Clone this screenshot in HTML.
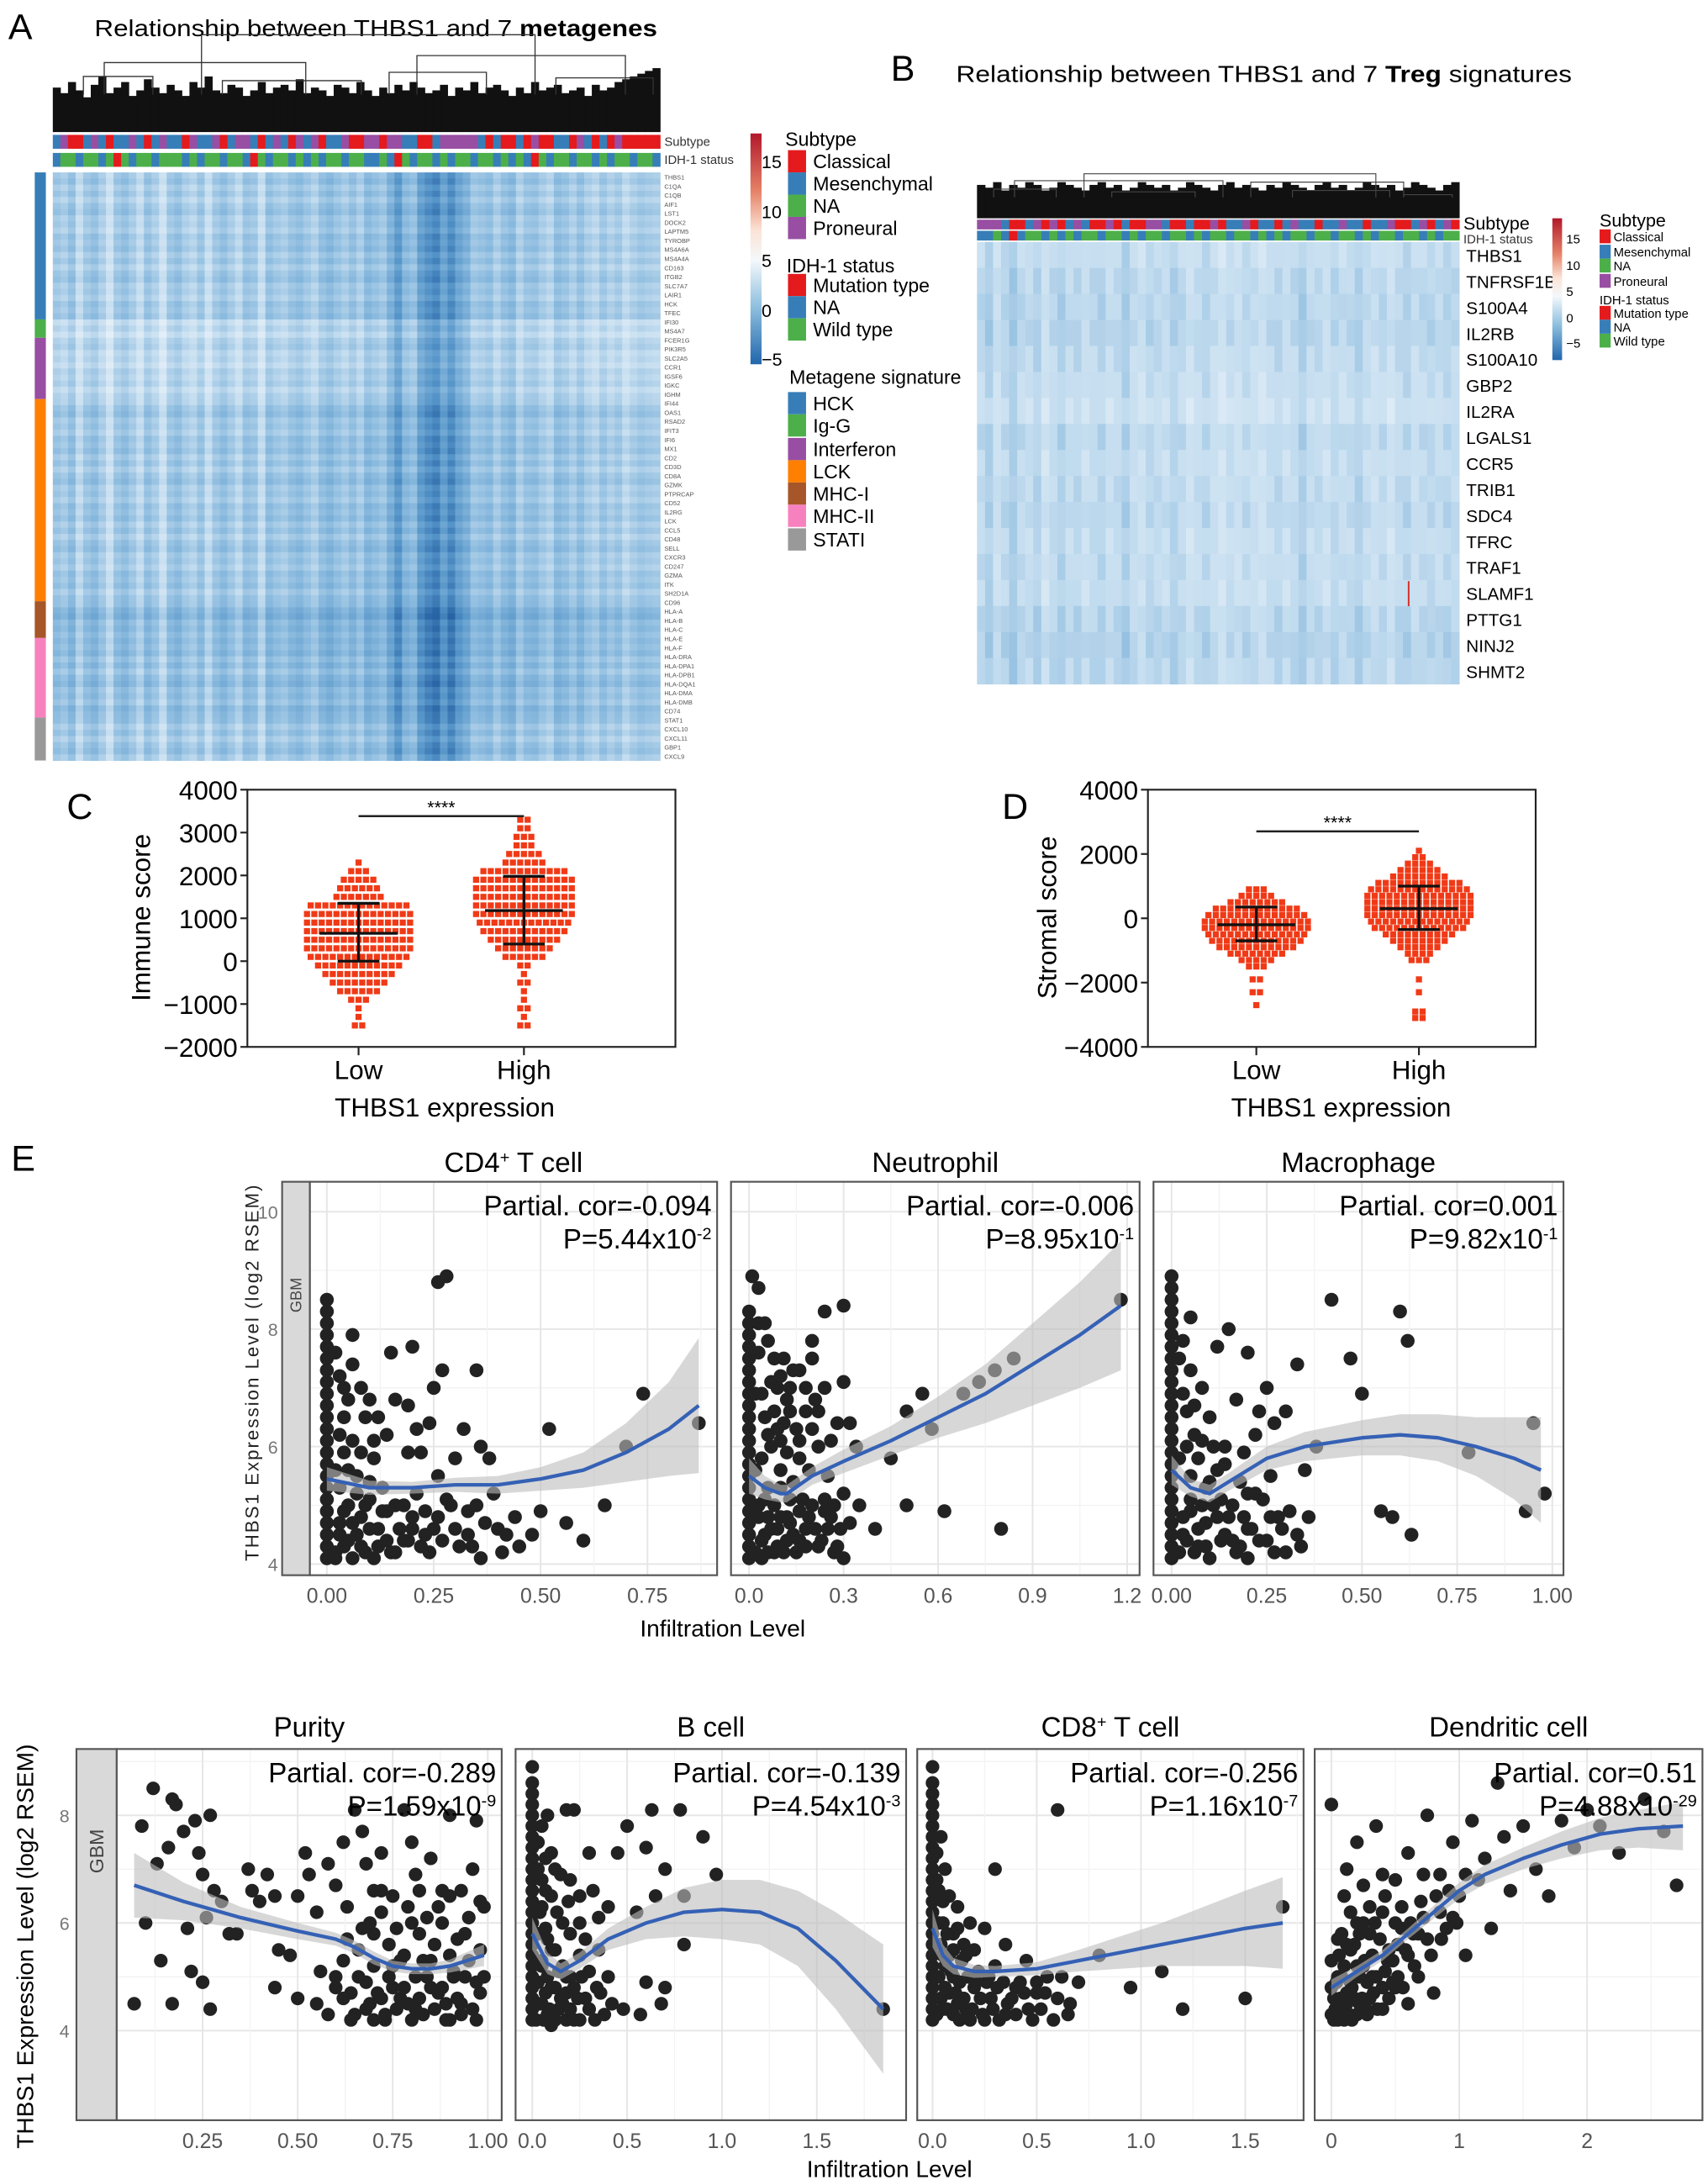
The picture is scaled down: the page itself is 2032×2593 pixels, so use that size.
<!DOCTYPE html>
<html><head><meta charset="utf-8">
<style>
html,body{margin:0;padding:0;background:#fff;}
svg{display:block;font-family:"Liberation Sans",sans-serif;}
</style></head>
<body>
<svg id="fig" xmlns="http://www.w3.org/2000/svg" width="2032" height="2593" viewBox="0 0 1229 1568" preserveAspectRatio="none">
<rect x="0" y="0" width="1229" height="1568" fill="#fff"/>

<text x="6" y="28" font-size="26">A</text>
<text x="68" y="26" font-size="17" textLength="405" lengthAdjust="spacingAndGlyphs">Relationship between THBS1 and 7 <tspan font-weight="bold">metagenes</tspan></text>
<g id="hmA"></g>
<text x="478" y="105" font-size="9" fill="#333">Subtype</text>
<text x="478" y="118" font-size="9" fill="#333">IDH-1 status</text>
<g id="legA">
<text x="565" y="105" font-size="14">Subtype</text>
<text x="566" y="196" font-size="14">IDH-1 status</text>
<text x="568" y="276" font-size="14">Metagene signature</text>
</g>

<text x="641" y="58" font-size="26">B</text>
<text x="688" y="59" font-size="17" textLength="443" lengthAdjust="spacingAndGlyphs">Relationship between THBS1 and 7 <tspan font-weight="bold">Treg</tspan> signatures</text>
<g id="hmB"></g>
<text x="1053" y="165" font-size="13">Subtype</text>
<text x="1053" y="175" font-size="9" fill="#333">IDH-1 status</text>
<g id="legB">
<text x="1151" y="163" font-size="13">Subtype</text>
<text x="1151" y="219" font-size="9">IDH-1 status</text>
</g>

<text x="48" y="589" font-size="26">C</text>
<text x="721" y="589" font-size="26">D</text>
<g id="chartC"></g>
<g id="chartD"></g>
<text transform="translate(108,660) rotate(-90)" font-size="19" text-anchor="middle">Immune score</text>
<text transform="translate(760,660) rotate(-90)" font-size="19" text-anchor="middle">Stromal score</text>
<text x="320" y="803" font-size="19" text-anchor="middle">THBS1 expression</text>
<text x="965" y="803" font-size="19" text-anchor="middle">THBS1 expression</text>

<text x="8" y="842" font-size="26">E</text>
<g id="chartE"></g>
<text transform="translate(186,987) rotate(-90)" font-size="13.5" letter-spacing="1.2" text-anchor="middle" fill="#222">THBS1 Expression Level (log2 RSEM)</text>
<text x="520" y="1177" font-size="17" text-anchor="middle">Infiltration Level</text>
<text transform="translate(24,1400) rotate(-90)" font-size="17" text-anchor="middle">THBS1 Expression Level (log2 RSEM)</text>
<text x="640" y="1566" font-size="17" text-anchor="middle">Infiltration Level</text>
</svg>

<script>
// ================= DATA =================
const colToneA = [0.45,0.4,0.5,0.3,0.45,0.5,0.4,0.25,0.45,0.5,0.42,0.3,0.48,0.4,0.25,0.45,0.5,0.4,0.35,0.46,0.28,0.44,0.5,0.42,0.32,0.48,0.45,0.28,0.5,0.44,0.4,0.48,0.52,0.45,0.38,0.5,0.55,0.48,0.42,0.5,0.4,0.55,0.5,0.45,0.6,0.75,0.55,0.5,0.72,0.8,0.85,0.7,0.82,0.68,0.6,0.45,0.48,0.52,0.4,0.5,0.55,0.38,0.48,0.5,0.42,0.36,0.52,0.48,0.4,0.5,0.4,0.35,0.46,0.38,0.44,0.32,0.4,0.45,0.42,0.4];
const groupsA = ["HCK","Ig-G","Interferon","LCK","MHC-I","MHC-II","STATI"];
const groupRowsA = [24,3,10,33,6,13,7];
const groupToneA = [0.0,-0.1,-0.08,0.02,0.12,0.08,0.02];
const rowToneA = [0,0.05,-0.04,0.03,-0.06,0.02,0.06,-0.03,0.01,-0.05,0.04];
const subtypeA = "MPCCMPMCMMPMCMPMMCPMMPCMPPMCMPMCPMPCMMPCCPPCPPMMCCMPPPPPMCMCCMCPCCMMCPMCMCPCCCCC";
const idhA     = "MNNMNNMNCNMNNMNNNMNMNNMNNMCNMNNMNMNMNNMNNMMNMCNMNNMNMNNMNNMNMNMCNMNNMNNMNMNNMNNM";
const leafA = [62,58,66,60,55,64,70,58,62,66,56,60,68,62,58,64,60,56,66,62,70,60,58,64,62,56,60,66,58,62,64,60,68,58,62,60,56,64,62,58,66,60,56,62,58,64,60,66,62,58,60,64,56,62,60,66,58,62,64,60,56,62,58,66,60,62,64,58,60,62,56,64,60,62,66,68,70,72,74,76];
const genesA = ["THBS1","C1QA","C1QB","AIF1","LST1","DOCK2","LAPTM5","TYROBP","MS4A6A","MS4A4A","CD163","ITGB2","SLC7A7","LAIR1","HCK","TFEC","IFI30","MS4A7","FCER1G","PIK3R5","SLC2A5","CCR1","IGSF6","IGKC","IGHM","IFI44","OAS1","RSAD2","IFIT3","IFI6","MX1","CD2","CD3D","CD8A","GZMK","PTPRCAP","CD52","IL2RG","LCK","CCL5","CD48","SELL","CXCR3","CD247","GZMA","ITK","SH2D1A","CD96","HLA-A","HLA-B","HLA-C","HLA-E","HLA-F","HLA-DRA","HLA-DPA1","HLA-DPB1","HLA-DQA1","HLA-DMA","HLA-DMB","CD74","STAT1","CXCL10","CXCL11","GBP1","CXCL9"];
const genesB = ["THBS1","TNFRSF1B","S100A4","IL2RB","S100A10","GBP2","IL2RA","LGALS1","CCR5","TRIB1","SDC4","TFRC","TRAF1","SLAMF1","PTTG1","NINJ2","SHMT2"];
const colToneB = [0.3,0.38,0.25,0.32,0.4,0.3,0.28,0.35,0.22,0.3,0.36,0.28,0.32,0.25,0.3,0.34,0.26,0.3,0.38,0.28,0.24,0.32,0.3,0.27,0.35,0.3,0.22,0.28,0.33,0.26,0.2,0.28,0.24,0.3,0.26,0.22,0.28,0.32,0.25,0.3,0.38,0.28,0.3,0.24,0.32,0.27,0.3,0.36,0.28,0.25,0.3,0.22,0.3,0.34,0.26,0.3,0.32,0.28,0.33,0.3];
const rowToneB = [0.0,0.04,0.05,0.06,0.02,0.0,-0.04,0.04,0.0,0.02,0.04,0.0,0.02,0.0,0.06,0.08,0.05];
const subtypeB = "PPPMCCMPCPCMPMCCPCMCCPPMCCMCCPCMMPCMMCMPMMCMMPMMCMMPCCMPCMPC";
const idhB     = "MMNMCMNNMNMNMNNMNNMNMNNMNNMNMNNMNNMNMNMNNMNNMNNMNMNNMNNMNMNN";
const leafB = [24,22,26,20,24,22,26,24,20,22,26,24,22,20,24,26,22,24,20,22,26,24,22,24,20,22,26,24,22,20,24,26,22,24,22,20,24,22,26,24,22,20,24,26,22,24,20,22,26,24,22,24,20,22,26,24,22,20,24,26];
const cLowVals  = [-1500,-1300,-1100,-900,-700,-500,-300,-100,100,300,500,700,900,1100,1300,1500,1700,1900,2100,2300];
const cLowCounts= [2,1,1,3,6,8,10,12,14,15,15,15,15,15,14,7,6,5,3,1];
const cHighVals = [-1500,-1300,-1100,-900,-700,-500,-300,-100,100,300,500,700,900,1100,1300,1500,1700,1900,2100,2300,2500,2700,2900,3100,3300];
const cHighCounts=[2,1,2,1,1,2,1,2,6,8,10,12,13,14,14,14,14,14,12,6,5,3,3,2,2];
const cStats = [[650,0,1350],[1180,400,1980]];
const cTicks = [4000,3000,2000,1000,0,-1000,-2000];
const dLowVals  = [-2700,-2300,-1900,-1500,-1300,-1100,-900,-700,-500,-300,-100,100,300,500,700,900];
const dLowCounts= [1,2,2,3,5,8,11,13,14,15,15,14,12,8,5,3];
const dHighVals = [-3100,-2900,-2300,-1900,-1300,-1100,-900,-700,-500,-300,-100,100,300,500,700,900,1100,1300,1500,1700,1900,2100];
const dHighCounts=[2,2,1,1,3,4,6,8,10,13,14,15,15,15,15,14,12,8,6,4,2,1];
const dStats = [[-200,-700,350],[300,-350,1000]];
const dTicks = [4000,2000,0,-2000,-4000];
const groupLabels = ["Low","High"];
const cd4Zero = [4.1,4.3,4.5,4.7,4.9,5.1,5.3,5.5,5.7,5.9,6.1,6.3,6.5,6.7,6.9,7.1,7.3,7.5,7.7,7.9,8.1,8.3,8.5];
const cd4Pts = [[0.02,4.2],[0.03,4.5],[0.04,4.9],[0.03,5.3],[0.05,4.4],[0.06,4.7],[0.08,4.3],[0.1,4.6],[0.12,4.3],[0.07,5.2],[0.09,5.0],[0.05,5.6],[0.04,6.5],[0.06,7.4],[0.03,7.2],[0.08,7.0],[0.1,6.8],[0.09,6.5],[0.12,6.5],[0.06,6.1],[0.08,5.9],[0.11,5.8],[0.13,5.3],[0.15,4.2],[0.17,4.6],[0.2,4.8],[0.22,4.3],[0.18,5.0],[0.14,6.2],[0.16,6.8],[0.19,6.7],[0.2,7.7],[0.15,7.6],[0.06,7.9],[0.26,8.8],[0.28,8.9],[0.25,7.0],[0.27,7.3],[0.24,6.4],[0.22,5.9],[0.26,5.5],[0.3,5.8],[0.32,6.3],[0.35,7.3],[0.36,6.0],[0.38,5.8],[0.3,4.6],[0.33,4.5],[0.36,4.1],[0.4,4.6],[0.42,4.5],[0.45,4.3],[0.48,4.5],[0.5,4.9],[0.52,6.3],[0.56,4.7],[0.6,4.4],[0.65,5.0],[0.7,6.0],[0.74,6.9],[0.87,6.4],[0.35,5.0],[0.28,5.1],[0.23,4.9],[0.11,4.1],[0.14,4.9],[0.19,4.4],[0.25,4.6]];
const cd4Dense = [[0.02,4.1],[0.04,4.3],[0.06,4.1],[0.03,4.7],[0.05,5.0],[0.07,4.5],[0.09,4.2],[0.08,4.8],[0.1,5.1],[0.12,4.6],[0.13,4.9],[0.14,4.4],[0.16,4.2],[0.16,5.0],[0.18,4.4],[0.2,4.6],[0.21,5.2],[0.23,4.5],[0.24,4.2],[0.26,4.8],[0.27,4.4],[0.29,5.0],[0.31,4.3],[0.33,4.9],[0.37,4.7],[0.39,5.2],[0.02,5.6],[0.04,5.9],[0.07,5.5],[0.1,5.4],[0.03,6.2],[0.05,6.8],[0.02,7.6],[0.04,7.0],[0.11,6.1],[0.19,5.9],[0.21,6.3],[0.34,4.3],[0.41,4.2],[0.44,4.8]];
const cd4FitX = [0,0.1,0.2,0.3,0.4,0.5,0.6,0.7,0.8,0.87];
const cd4FitY = [5.45,5.3,5.3,5.35,5.35,5.45,5.6,5.9,6.3,6.7];
const cd4Ci   = [0.2,0.12,0.1,0.12,0.15,0.2,0.3,0.5,0.8,1.15];
const neuZero = [4.1,4.3,4.5,4.7,4.9,5.1,5.3,5.5,5.7,5.9,6.1,6.3,6.5,6.7,6.9,7.1,7.3,7.5,7.7,7.9,8.1,8.3];
const neuPts = [[0.01,8.9],[0.03,8.7],[0.03,8.1],[0.05,8.1],[0.08,7.5],[0.11,7.5],[0.1,7.2],[0.13,7.0],[0.16,7.3],[0.2,7.5],[0.2,7.8],[0.24,8.3],[0.3,8.4],[0.3,7.1],[0.28,6.4],[0.32,6.4],[0.34,6.0],[0.05,6.5],[0.07,6.0],[0.1,5.6],[0.12,5.9],[0.15,6.3],[0.18,6.6],[0.22,6.0],[0.25,5.5],[0.27,5.0],[0.3,5.2],[0.32,4.7],[0.35,5.0],[0.4,4.6],[0.45,5.8],[0.5,5.0],[0.5,6.6],[0.55,6.9],[0.58,6.3],[0.62,4.9],[0.68,6.9],[0.73,7.1],[0.78,7.3],[0.8,4.6],[0.84,7.5],[1.18,8.5],[0.03,5.0],[0.05,4.5],[0.08,4.2],[0.1,4.8],[0.12,4.4],[0.15,4.2],[0.18,4.6],[0.2,5.0],[0.22,4.3],[0.25,4.6],[0.28,4.3],[0.3,4.1],[0.14,5.4],[0.17,5.1],[0.06,5.3],[0.09,4.6],[0.04,4.1],[0.11,4.2],[0.04,6.9],[0.07,7.1],[0.09,6.3],[0.13,6.6],[0.16,5.8],[0.19,5.6],[0.21,6.8],[0.06,4.8],[0.13,4.7],[0.24,4.9]];
const neuDense = [[0.02,4.2],[0.04,4.4],[0.06,4.2],[0.03,4.8],[0.05,5.1],[0.07,4.6],[0.09,4.3],[0.08,5.0],[0.1,5.3],[0.12,4.8],[0.13,5.1],[0.14,4.5],[0.16,4.4],[0.16,4.9],[0.18,4.3],[0.19,4.8],[0.21,4.6],[0.23,4.4],[0.24,5.1],[0.26,4.8],[0.27,4.2],[0.29,4.6],[0.02,5.6],[0.04,5.8],[0.06,6.2],[0.08,6.6],[0.1,6.1],[0.12,6.8],[0.14,7.3],[0.16,6.1],[0.18,7.0],[0.2,6.3],[0.22,6.6],[0.24,7.0],[0.26,6.1],[0.03,7.6],[0.06,7.8],[0.09,7.0],[0.11,6.4],[0.02,6.9]];
const neuFitX = [0,0.05,0.1,0.12,0.2,0.3,0.45,0.6,0.75,0.9,1.05,1.18];
const neuFitY = [5.5,5.3,5.2,5.2,5.5,5.75,6.1,6.5,6.9,7.4,7.9,8.4];
const neuCi   = [0.3,0.2,0.15,0.15,0.15,0.2,0.25,0.35,0.5,0.7,0.9,1.1];
const macZero = [4.1,4.3,4.5,4.7,4.9,5.1,5.3,5.5,5.7,5.9,6.1,6.3,6.5,6.7,6.9,7.1,7.3,7.5,7.7,7.9,8.1,8.3,8.5,8.7,8.9];
const macPts = [[0.02,7.5],[0.03,6.9],[0.05,7.3],[0.06,6.2],[0.07,5.8],[0.08,7.0],[0.1,6.5],[0.12,7.7],[0.15,8.0],[0.17,6.8],[0.2,7.6],[0.22,6.2],[0.25,7.0],[0.27,6.4],[0.3,6.6],[0.33,7.4],[0.35,5.6],[0.38,6.0],[0.42,8.5],[0.47,7.5],[0.5,6.9],[0.55,4.9],[0.58,4.8],[0.6,8.3],[0.62,7.8],[0.63,4.5],[0.78,5.9],[0.95,6.4],[0.93,4.9],[0.98,5.2],[0.03,4.5],[0.05,4.9],[0.07,4.3],[0.09,4.7],[0.11,5.0],[0.13,4.4],[0.15,4.8],[0.17,4.2],[0.2,4.6],[0.22,5.2],[0.25,4.4],[0.28,4.8],[0.3,4.2],[0.33,4.5],[0.12,5.6],[0.18,5.4],[0.26,5.5],[0.05,5.5],[0.09,5.3],[0.04,6.6],[0.08,6.1],[0.14,6.0],[0.19,5.9],[0.23,6.6],[0.1,4.1],[0.2,4.1]];
const macDense = [[0.02,4.2],[0.04,4.4],[0.06,4.2],[0.03,4.8],[0.05,5.1],[0.07,4.6],[0.09,4.3],[0.08,5.0],[0.1,5.4],[0.12,4.8],[0.13,5.1],[0.14,4.5],[0.16,4.4],[0.16,5.0],[0.18,4.3],[0.19,4.8],[0.21,4.6],[0.23,4.4],[0.24,5.1],[0.26,4.8],[0.27,4.2],[0.29,4.6],[0.02,5.8],[0.04,6.0],[0.06,6.7],[0.03,7.8],[0.05,8.2],[0.11,6.0],[0.14,5.7],[0.2,5.2],[0.31,4.9],[0.34,4.3],[0.36,4.8]];
const macFitX = [0,0.05,0.1,0.15,0.25,0.35,0.5,0.6,0.7,0.8,0.9,0.97];
const macFitY = [5.6,5.3,5.2,5.4,5.8,6.0,6.15,6.2,6.15,6.0,5.8,5.6];
const macCi   = [0.25,0.15,0.15,0.15,0.2,0.25,0.3,0.35,0.4,0.5,0.7,0.9];
const purPts = [[0.07,4.5],[0.09,7.8],[0.12,8.5],[0.1,6.0],[0.13,7.1],[0.14,5.3],[0.16,7.4],[0.17,8.3],[0.18,8.2],[0.2,7.7],[0.21,5.9],[0.22,5.1],[0.23,7.9],[0.24,7.3],[0.25,6.9],[0.26,6.1],[0.25,4.9],[0.27,8.0],[0.28,6.6],[0.17,4.5],[0.27,4.4],[0.3,6.4],[0.32,5.8],[0.34,5.8],[0.37,7.0],[0.38,6.6],[0.4,6.4],[0.42,6.9],[0.44,6.5],[0.45,5.5],[0.44,4.8],[0.5,6.5],[0.52,7.3],[0.53,6.9],[0.55,6.2],[0.56,5.1],[0.58,7.1],[0.6,6.7],[0.62,7.5],[0.63,6.3],[0.65,8.1],[0.67,7.7],[0.68,7.1],[0.7,6.6],[0.72,7.3],[0.75,6.5],[0.78,8.1],[0.8,7.5],[0.82,6.6],[0.85,7.2],[0.88,6.0],[0.9,8.0],[0.93,6.6],[0.97,7.9],[0.98,6.4],[0.6,5.0],[0.62,4.6],[0.65,4.3],[0.68,4.9],[0.7,4.2],[0.72,4.6],[0.74,5.0],[0.76,4.4],[0.78,4.8],[0.8,4.2],[0.82,4.6],[0.84,5.0],[0.86,4.4],[0.88,4.8],[0.9,4.2],[0.92,4.6],[0.94,5.0],[0.96,4.4],[0.98,4.7],[0.66,5.5],[0.7,5.8],[0.74,5.6],[0.78,5.4],[0.82,5.8],[0.86,5.6],[0.9,5.4],[0.94,5.8],[0.98,5.5],[0.72,6.2],[0.8,6.0],[0.87,6.3],[0.95,6.1],[0.55,4.5],[0.5,4.6],[0.48,5.4],[0.64,4.7],[0.69,4.5],[0.73,4.3],[0.77,4.6],[0.81,4.4],[0.85,4.8],[0.89,4.5],[0.93,4.3],[0.97,4.9],[0.75,5.2],[0.83,5.3],[0.91,5.1],[0.67,5.9],[0.79,6.3],[0.88,6.6]];
const purDense = [[0.58,4.3],[0.6,4.8],[0.62,5.3],[0.64,4.2],[0.66,5.0],[0.68,4.4],[0.7,5.2],[0.71,4.7],[0.73,4.2],[0.75,4.8],[0.77,5.3],[0.79,4.5],[0.81,5.0],[0.83,4.3],[0.85,5.3],[0.87,4.7],[0.89,4.2],[0.91,5.0],[0.93,4.5],[0.95,5.3],[0.97,4.2],[0.99,5.0],[0.63,5.7],[0.69,6.0],[0.76,5.9],[0.84,6.1],[0.92,5.7],[0.99,6.3],[0.72,6.6],[0.81,6.9],[0.9,6.5],[0.96,7.0]];
const purFitX = [0.07,0.2,0.35,0.5,0.6,0.65,0.7,0.75,0.8,0.85,0.9,0.99];
const purFitY = [6.7,6.4,6.1,5.85,5.7,5.55,5.35,5.2,5.15,5.15,5.2,5.4];
const purCi   = [0.6,0.35,0.2,0.15,0.12,0.12,0.12,0.1,0.1,0.1,0.12,0.2];
const bZero = [4.2,4.4,4.6,4.8,5.0,5.2,5.4,5.6,5.8,6.0,6.2,6.4,6.6,6.8,7.0,7.2,7.4,7.6,7.8,8.0,8.2,8.4,8.6,8.9];
const bPts = [[0.03,7.5],[0.05,6.8],[0.07,7.2],[0.1,6.5],[0.12,7.0],[0.15,6.9],[0.18,8.1],[0.22,8.1],[0.2,6.8],[0.25,6.0],[0.3,7.3],[0.32,6.6],[0.35,6.1],[0.4,6.3],[0.45,7.3],[0.5,7.8],[0.6,7.4],[0.63,8.1],[0.7,7.0],[0.78,8.1],[0.65,6.5],[0.8,6.5],[0.8,5.6],[0.9,7.6],[0.97,6.9],[0.55,6.2],[0.6,4.9],[0.7,4.8],[0.68,4.5],[0.57,4.3],[0.48,4.4],[1.85,4.4],[0.05,4.5],[0.08,4.3],[0.1,4.8],[0.12,4.2],[0.15,4.6],[0.18,5.0],[0.2,4.4],[0.22,4.8],[0.25,4.2],[0.28,4.6],[0.3,5.1],[0.33,4.2],[0.36,4.7],[0.4,5.0],[0.42,4.5],[0.05,5.3],[0.08,5.7],[0.12,5.5],[0.16,5.2],[0.2,5.8],[0.25,5.4],[0.35,5.5],[0.04,6.2],[0.07,5.9],[0.1,4.1],[0.14,4.4],[0.18,4.2]];
const bDense = [[0.02,4.2],[0.04,4.5],[0.06,4.2],[0.03,4.9],[0.05,5.2],[0.07,4.7],[0.09,4.4],[0.08,5.0],[0.1,5.5],[0.12,4.8],[0.14,5.1],[0.16,4.5],[0.18,4.7],[0.2,5.0],[0.22,4.2],[0.24,4.6],[0.26,5.0],[0.3,4.4],[0.34,4.8],[0.38,4.3],[0.03,5.8],[0.05,6.3],[0.07,6.6],[0.1,7.3],[0.13,6.2],[0.16,6.0],[0.19,6.4],[0.03,7.0],[0.05,7.8],[0.08,8.0],[0.25,6.5],[0.28,5.7]];
const bFitX = [0,0.08,0.15,0.25,0.4,0.6,0.8,1.0,1.2,1.4,1.6,1.85];
const bFitY = [5.8,5.25,5.1,5.3,5.7,6.0,6.2,6.25,6.2,5.9,5.3,4.4];
const bCi   = [0.3,0.2,0.15,0.15,0.2,0.3,0.45,0.55,0.6,0.7,0.9,1.2];
const cd8Zero = [4.2,4.4,4.6,4.8,5.0,5.2,5.4,5.6,5.8,6.0,6.2,6.4,6.6,6.8,7.0,7.2,7.4,7.6,7.8,8.0,8.2,8.4,8.6,8.9];
const cd8Pts = [[0.02,7.3],[0.03,6.6],[0.05,6.0],[0.06,7.0],[0.08,6.5],[0.1,5.8],[0.12,6.3],[0.15,5.6],[0.18,6.0],[0.2,5.5],[0.25,5.9],[0.3,5.2],[0.35,5.6],[0.4,4.8],[0.45,5.3],[0.5,4.7],[0.55,5.0],[0.6,4.6],[0.7,4.9],[0.8,5.4],[0.95,4.8],[1.1,5.1],[1.2,4.4],[1.5,4.6],[1.68,6.3],[0.6,8.1],[0.3,7.0],[0.05,4.4],[0.08,4.7],[0.1,4.3],[0.13,4.9],[0.16,4.4],[0.2,4.8],[0.24,4.3],[0.28,4.6],[0.32,4.2],[0.36,4.5],[0.4,4.3],[0.44,4.7],[0.48,4.2],[0.52,4.4],[0.06,5.2],[0.1,5.0],[0.14,5.3],[0.22,5.1],[0.26,4.9],[0.04,5.6],[0.08,5.4],[0.12,4.5],[0.18,4.2],[0.34,4.9],[0.65,4.3]];
const cd8Dense = [[0.02,4.3],[0.04,4.6],[0.06,4.8],[0.03,5.0],[0.05,5.4],[0.07,4.4],[0.09,5.1],[0.11,4.7],[0.13,4.2],[0.15,4.6],[0.17,5.0],[0.19,4.4],[0.21,4.9],[0.23,4.6],[0.25,4.2],[0.27,5.0],[0.29,4.4],[0.31,4.8],[0.35,4.3],[0.38,4.6],[0.42,4.9],[0.46,4.4],[0.5,4.9],[0.54,4.7],[0.58,4.2],[0.62,5.0],[0.66,4.5],[0.03,6.0],[0.05,6.4],[0.07,5.8],[0.1,5.5],[0.02,6.8],[0.04,7.6],[0.12,5.9],[0.16,5.4]];
const cd8FitX = [0,0.05,0.1,0.2,0.3,0.5,0.7,0.9,1.1,1.3,1.5,1.68];
const cd8FitY = [5.9,5.4,5.2,5.1,5.1,5.15,5.3,5.45,5.6,5.75,5.9,6.0];
const cd8Ci   = [0.35,0.2,0.15,0.12,0.1,0.12,0.2,0.3,0.4,0.55,0.7,0.85];
const dcZero = [];
const dcPts = [[0,4.3],[0,4.8],[0,5.3],[0,8.2],[0.05,4.2],[0.05,5.0],[0.08,5.8],[0.1,4.5],[0.1,6.5],[0.12,7.0],[0.15,4.9],[0.15,5.5],[0.2,4.3],[0.2,6.0],[0.2,7.5],[0.25,5.2],[0.25,6.7],[0.3,4.6],[0.3,5.8],[0.35,7.8],[0.35,5.0],[0.4,4.4],[0.4,6.2],[0.45,5.5],[0.5,4.8],[0.5,6.8],[0.55,5.9],[0.6,7.3],[0.6,4.5],[0.65,5.2],[0.7,6.4],[0.75,8.0],[0.75,5.7],[0.8,4.7],[0.85,6.9],[0.9,5.9],[0.95,7.5],[1.0,6.5],[1.05,5.4],[1.1,7.9],[1.15,6.8],[1.2,7.2],[1.25,5.9],[1.3,8.6],[1.35,7.6],[1.4,6.6],[1.5,7.8],[1.6,7.0],[1.7,6.5],[1.8,7.9],[1.9,7.4],[2.0,8.1],[2.1,7.8],[2.25,7.3],[2.45,8.3],[2.7,6.7],[2.6,7.7],[0.02,4.6],[0.08,4.4],[0.12,4.7],[0.18,4.6],[0.22,5.0],[0.28,4.9],[0.32,5.4],[0.38,5.7],[0.42,5.1],[0.48,5.3],[0.55,6.3],[0.62,6.0],[0.05,5.7],[0.1,5.2],[0.18,5.6],[0.25,6.0],[0.3,6.3],[0.03,4.4],[0.07,4.6],[0.14,4.3],[0.22,4.5],[0.27,4.4],[0.33,4.7],[0.45,4.6],[0.52,5.0],[0.58,5.5],[0.68,5.8],[0.72,6.9],[0.85,6.2],[0.95,6.1],[1.05,6.9],[0.4,6.9],[0.15,6.2]];
const dcDense = [[0.02,4.2],[0.06,4.4],[0.1,4.2],[0.04,4.9],[0.08,5.0],[0.12,4.5],[0.16,4.2],[0.16,4.8],[0.2,5.2],[0.24,4.6],[0.28,4.3],[0.32,5.0],[0.36,4.4],[0.4,4.8],[0.44,5.3],[0.48,4.9],[0.52,5.6],[0.56,4.8],[0.6,5.4],[0.64,5.8],[0.68,5.0],[0.72,6.1],[0.78,5.4],[0.82,6.5],[0.86,5.7],[0.92,6.6],[0.98,6.0],[0.12,5.6],[0.22,5.8],[0.34,6.0],[0.42,6.5],[0.5,6.0],[0.26,5.3],[0.06,5.4]];
const dcFitX = [0,0.2,0.4,0.6,0.8,1.0,1.2,1.5,1.8,2.1,2.4,2.75];
const dcFitY = [4.8,5.1,5.4,5.8,6.2,6.6,6.9,7.2,7.45,7.65,7.75,7.8];
const dcCi   = [0.15,0.1,0.1,0.1,0.12,0.15,0.18,0.2,0.25,0.3,0.35,0.45];
const topYTicks = [4,6,8,10];
const botYTicks = [4,6,8];
const cd4XTicks = [0,0.25,0.5,0.75];
const cd4XLabels = ["0.00","0.25","0.50","0.75"];
const neuXTicks = [0,0.3,0.6,0.9,1.2];
const neuXLabels = ["0.0","0.3","0.6","0.9","1.2"];
const macXTicks = [0,0.25,0.5,0.75,1.0];
const macXLabels = ["0.00","0.25","0.50","0.75","1.00"];
const purXTicks = [0.25,0.5,0.75,1.0];
const purXLabels = ["0.25","0.50","0.75","1.00"];
const bXTicks = [0,0.5,1.0,1.5];
const bXLabels = ["0.0","0.5","1.0","1.5"];
const cd8XTicks = [0,0.5,1.0,1.5];
const cd8XLabels = ["0.0","0.5","1.0","1.5"];
const dcXTicks = [0,1,2];
const dcXLabels = ["0","1","2"];
const corLabels = ["-0.094","-0.006","0.001","-0.289","-0.139","-0.256","0.51"];
const pMant = ["5.44","8.95","9.82","1.59","4.54","1.16","4.88"];
const pExp = ["-2","-1","-1","-9","-3","-7","-29"];

// ================= HELPERS =================
const NS = "http://www.w3.org/2000/svg";
function mk(parent, tag, attrs){
  const e = document.createElementNS(NS, tag);
  for (const k in attrs) e.setAttribute(k, attrs[k]);
  parent.appendChild(e);
  return e;
}
function lerp(a,b,t){return a+(b-a)*t;}
function blue(t){
  t = Math.max(0, Math.min(1, t));
  const stops = [[0,[240,246,251]],[0.3,[198,222,240]],[0.55,[138,186,222]],[0.8,[85,148,200]],[1,[40,100,165]]];
  for (let i=0;i<stops.length-1;i++){
    if (t<=stops[i+1][0]){
      const u=(t-stops[i][0])/(stops[i+1][0]-stops[i][0]);
      const c=stops[i][1].map((v,k)=>Math.round(lerp(v,stops[i+1][1][k],u)));
      return "rgb("+c.join(",")+")";
    }
  }
  return "rgb(40,100,165)";
}
const subColors = {C:"#e41a1c",M:"#377eb8",N:"#4daf4a",P:"#984ea3"};
const idhColors = {C:"#e41a1c",M:"#377eb8",N:"#4daf4a"};
const sigColors = ["#377eb8","#4daf4a","#984ea3","#ff7f00","#a65628","#f781bf","#999999"];

// ================= HEATMAP A =================
(function(){
  const g = document.getElementById("hmA");
  const x0=38, x1=475, W=x1-x0;
  const lw = W/leafA.length;
  leafA.forEach((h,i)=>{
    const r = mk(g,"rect",{x:x0+i*lw, y:95-(h-30), width:lw+0.3, height:h-30, fill:"#111"});
    
    
  });
  const branches = [[145,385,25],[75,220,45],[300,450,40],[60,110,55],[160,260,58],[280,350,52],[400,470,56]];
  branches.forEach(b=>{
    const p = mk(g,"path",{d:`M${b[0]},68 V${b[2]} H${b[1]} V68`, fill:"none", stroke:"#333", "stroke-width":0.8});
    
    
  });
  const sw = W/subtypeA.length;
  for (let i=0;i<subtypeA.length;i++){
    const r = mk(g,"rect",{x:x0+i*sw,y:97,width:sw+0.3,height:10,fill:subColors[subtypeA[i]]});
    
    
  }
  const iw = W/idhA.length;
  for (let i=0;i<idhA.length;i++){
    const r = mk(g,"rect",{x:x0+i*iw,y:110,width:iw+0.3,height:10,fill:idhColors[idhA[i]]});
    
    
  }
  const y0=124, y1=547;
  const totalRows = groupRowsA.reduce((a,b)=>a+b,0);
  const rh = (y1-y0)/totalRows;
  const cw = W/colToneA.length;
  let row=0;
  groupRowsA.forEach((n,gi)=>{
    const gy = y0+row*rh;
    const band = mk(g,"rect",{x:25,y:gy,width:8,height:n*rh,fill:sigColors[gi]});
    
    
    for (let r=0;r<n;r++){
      const rt = rowToneA[(row+r)%rowToneA.length];
      colToneA.forEach((c,j)=>{
        const rc = mk(g,"rect",{x:x0+j*cw,y:y0+(row+r)*rh,width:cw+0.3,height:rh+0.3,fill:blue(c+groupToneA[gi]+rt)});
        
        
      });
    }
    row+=n;
  });
  const gs = (y1-y0)/genesA.length;
  genesA.forEach((nm,i)=>{
    const t = mk(g,"text",{x:478,y:y0+gs*(i+0.8),"font-size":4.5,fill:"#555"});
    t.textContent = nm;
    
    
  });
  const defs = mk(document.getElementById("fig"),"defs",{});
  const lg = mk(defs,"linearGradient",{id:"cbar",x1:0,y1:0,x2:0,y2:1});
  [["0","#b2182b"],["0.25","#e58267"],["0.42","#fbe3d6"],["0.55","#f4f8fb"],["0.75","#8fc0df"],["1","#2166ac"]].forEach(s=>mk(lg,"stop",{offset:s[0],"stop-color":s[1]}));
  const cb = mk(g,"rect",{x:540,y:96,width:8,height:166,fill:"url(#cbar)"});
  
  
  [["15",116],["10",152],["5",187],["0",223],["−5",258]].forEach(t=>{
    const tx = mk(g,"text",{x:548,y:t[1]+5,"font-size":13});
    tx.textContent=t[0];
    
    
  });
  const lgA = document.getElementById("legA");
  const items = [["Classical","#e41a1c",116],["Mesenchymal","#377eb8",132],["NA","#4daf4a",148],["Proneural","#984ea3",164],
    ["Mutation type","#e41a1c",205],["NA","#377eb8",221],["Wild type","#4daf4a",237],
    ["HCK",sigColors[0],290],["Ig-G",sigColors[1],306],["Interferon",sigColors[2],323],["LCK",sigColors[3],339],["MHC-I",sigColors[4],355],["MHC-II",sigColors[5],371],["STATI",sigColors[6],388]];
  items.forEach(it=>{
    const r = mk(lgA,"rect",{x:567,y:it[2]-8,width:13,height:16,fill:it[1]});
    
    
    const t = mk(lgA,"text",{x:585,y:it[2]+5,"font-size":14});
    t.textContent = it[0];
    
    
  });
})();

// ================= HEATMAP B =================
(function(){
  const g = document.getElementById("hmB");
  const x0=703, x1=1050, W=x1-x0;
  const lw = W/leafB.length;
  leafB.forEach((h,i)=>{
    const r = mk(g,"rect",{x:x0+i*lw,y:157-h,width:lw+0.3,height:h,fill:"#111"});
    
    
  });
  const branches = [[780,990,125],[730,880,130],[900,1010,131],[715,760,136],[800,860,138],[930,1000,137],[1010,1045,140]];
  branches.forEach(b=>{
    const p = mk(g,"path",{d:`M${b[0]},142 V${b[2]} H${b[1]} V142`,fill:"none",stroke:"#444","stroke-width":0.7});
    
    
  });
  const sw = W/subtypeB.length;
  for (let i=0;i<subtypeB.length;i++){
    const r = mk(g,"rect",{x:x0+i*sw,y:158,width:sw+0.3,height:7,fill:subColors[subtypeB[i]]});
    
    
  }
  const iw = W/idhB.length;
  for (let i=0;i<idhB.length;i++){
    const r = mk(g,"rect",{x:x0+i*iw,y:166,width:iw+0.3,height:7,fill:idhColors[idhB[i]]});
    
    
  }
  const y0=174, y1=492, rh=(y1-y0)/genesB.length, cw=W/colToneB.length;
  genesB.forEach((nm,i)=>{
    colToneB.forEach((c,j)=>{
      const rc = mk(g,"rect",{x:x0+j*cw,y:y0+i*rh,width:cw+0.3,height:rh+0.3,fill:blue(c+rowToneB[i]+((i*7+j*3)%5-2)*0.02)});
      
      
    });
    const t = mk(g,"text",{x:1055,y:y0+rh*i+rh/2+5,"font-size":12.5});
    t.textContent = nm;
    
    
  });
  const mark = mk(g,"rect",{x:1013,y:418,width:1.2,height:18,fill:"#d73027"});
  
  
  const cb = mk(g,"rect",{x:1117,y:157,width:7,height:102,fill:"url(#cbar)"});
  
  
  [["15",171],["10",190],["5",209],["0",228],["−5",246]].forEach(t=>{
    const tx = mk(g,"text",{x:1127,y:t[1]+4,"font-size":9});
    tx.textContent=t[0];
    
    
  });
  const lgB = document.getElementById("legB");
  const items = [["Classical","#e41a1c",170],["Mesenchymal","#377eb8",181],["NA","#4daf4a",191],["Proneural","#984ea3",202],["Mutation type","#e41a1c",225],["NA","#377eb8",235],["Wild type","#4daf4a",245]];
  items.forEach(it=>{
    const r = mk(lgB,"rect",{x:1151,y:it[2]-5,width:8,height:10,fill:it[1]});
    
    
    const t = mk(lgB,"text",{x:1161,y:it[2]+3.5,"font-size":9});
    t.textContent = it[0];
    
    
  });
})();

// ================= BEESWARM C / D =================
function beeswarm(gid, box, vmin, vmax, ticks, groups, stats, sigY){
  const g = document.getElementById(gid);
  const ys = v => box.y1 - (v - vmin)/(vmax - vmin)*(box.y1 - box.y0);
  const frame = mk(g,"rect",{x:box.x0,y:box.y0,width:box.x1-box.x0,height:box.y1-box.y0,fill:"none",stroke:"#222","stroke-width":1.3});
  
  
  ticks.forEach(t=>{
    const l = mk(g,"line",{x1:box.x0-5,x2:box.x0,y1:ys(t),y2:ys(t),stroke:"#222","stroke-width":1.3});
    
    
    const tx = mk(g,"text",{x:box.x0-7,y:ys(t)+7,"font-size":19,"text-anchor":"end"});
    tx.textContent = t<0 ? "−"+Math.abs(t) : String(t);
    
    
  });
  groups.forEach((gr,gi)=>{
    const cx = gr.cx;
    gr.vals.forEach((v,k)=>{
      const n = gr.counts[k];
      for (let i=0;i<n;i++){
        const off = (i-(n-1)/2)*5.3;
        const sq = mk(g,"rect",{x:cx+off-2.2,y:ys(v)-2.2,width:4.4,height:4.4,fill:"#f03a17"});
        
        
      }
    });
    const s = stats[gi];
    const em = mk(g,"path",{d:`M${cx-28},${ys(s[0])} H${cx+28} M${cx},${ys(s[1])} V${ys(s[2])} M${cx-15},${ys(s[1])} H${cx+15} M${cx-15},${ys(s[2])} H${cx+15}`,stroke:"#111","stroke-width":2,fill:"none"});
    
    
    const tk = mk(g,"line",{x1:cx,x2:cx,y1:box.y1,y2:box.y1+6,stroke:"#222","stroke-width":1.3});
    
    
    const lab = mk(g,"text",{x:cx,y:box.y1+23,"font-size":19,"text-anchor":"middle"});
    lab.textContent = groupLabels[gi];
    
    
  });
  const sb = mk(g,"line",{x1:groups[0].cx,x2:groups[1].cx,y1:sigY,y2:sigY,stroke:"#222","stroke-width":1.5});
  
  
  const st = mk(g,"text",{x:(groups[0].cx+groups[1].cx)/2,y:sigY-2,"font-size":13,"text-anchor":"middle"});
  st.textContent = "****";
  
  
}
beeswarm("chartC",{x0:178,x1:486,y0:568,y1:753},-2000,4000,cTicks,
  [{cx:258,vals:cLowVals,counts:cLowCounts},{cx:377,vals:cHighVals,counts:cHighCounts}],cStats,587);
beeswarm("chartD",{x0:826,x1:1105,y0:568,y1:753},-4000,4000,dTicks,
  [{cx:904,vals:dLowVals,counts:dLowCounts},{cx:1021,vals:dHighVals,counts:dHighCounts}],dStats,598);

// ================= SCATTER PANELS E =================
function panel(cfg){
  const g = document.getElementById("chartE");
  const xs = v => cfg.px0 + v*cfg.ppu;
  const ys = v => cfg.ybase - (v-4)*cfg.ypu;
  const bg = mk(g,"rect",{x:cfg.x0,y:cfg.y0,width:cfg.x1-cfg.x0,height:cfg.y1-cfg.y0,fill:"#fff"});
  
  
  cfg.yticks.forEach(t=>{
    [t, t+1].forEach((v,k)=>{
      const y = ys(v);
      if (y>cfg.y0 && y<cfg.y1){
        const l = mk(g,"line",{x1:cfg.x0,x2:cfg.x1,y1:y,y2:y,stroke:k?"#f3f3f3":"#e6e6e6","stroke-width":k?0.8:1.2});
        
        
      }
    });
  });
  const step = cfg.xticks.length>1 ? cfg.xticks[1]-cfg.xticks[0] : 1;
  cfg.xticks.forEach(t=>{
    [t, t+step/2].forEach((v,k)=>{
      const x = xs(v);
      if (x>cfg.x0 && x<cfg.x1){
        const l = mk(g,"line",{x1:x,x2:x,y1:cfg.y0,y2:cfg.y1,stroke:k?"#f3f3f3":"#e6e6e6","stroke-width":k?0.8:1.2});
        
        
      }
    });
  });
  if (cfg.xticks[0] > 0){
    const x = xs(cfg.xticks[0]-step/2);
    const l = mk(g,"line",{x1:x,x2:x,y1:cfg.y0,y2:cfg.y1,stroke:"#f3f3f3","stroke-width":0.8});
    
    
  }
  cfg.zero.forEach(v=>{
    const c = mk(g,"circle",{cx:xs(0),cy:ys(v),r:cfg.r,fill:"#222"});
    
    
  });
  cfg.pts.concat(cfg.dense).forEach(p=>{
    const c = mk(g,"circle",{cx:xs(p[0]),cy:ys(p[1]),r:cfg.r,fill:"#222"});
    
    
  });
  let up="", lo="";
  cfg.fx.forEach((x,i)=>{ up += (i?" L":"M")+xs(x)+","+ys(cfg.fy[i]+cfg.ci[i]); });
  for (let i=cfg.fx.length-1;i>=0;i--){ lo += " L"+xs(cfg.fx[i])+","+ys(cfg.fy[i]-cfg.ci[i]); }
  const band = mk(g,"path",{d:up+lo+" Z",fill:"#bdbdbd","fill-opacity":0.6});
  
  
  let d="";
  cfg.fx.forEach((x,i)=>{ d += (i?" L":"M")+xs(x)+","+ys(cfg.fy[i]); });
  const line = mk(g,"path",{d:d,fill:"none",stroke:"#3561b5","stroke-width":2.6,"stroke-linejoin":"round"});
  
  
  const fr = mk(g,"rect",{x:cfg.x0,y:cfg.y0,width:cfg.x1-cfg.x0,height:cfg.y1-cfg.y0,fill:"none",stroke:"#555","stroke-width":1.3});
  
  
  cfg.xticks.forEach((t,i)=>{
    const tx = mk(g,"text",{x:xs(t),y:cfg.y1+cfg.xlabOff,"font-size":cfg.tickFs,"text-anchor":"middle",fill:"#555"});
    tx.textContent = cfg.xlabels[i];
    
    
  });
  if (cfg.showY){
    cfg.yticks.forEach(t=>{
      const tx = mk(g,"text",{x:cfg.ylabX,y:ys(t)+5,"font-size":cfg.tickFs-2,"text-anchor":"end",fill:"#777"});
      tx.textContent = String(t);
      
      
    });
  }
  const tt = mk(g,"text",{x:(cfg.x0+cfg.x1)/2,y:cfg.titleY,"font-size":20,"text-anchor":"middle"});
  
  
  if (cfg.sup){
    tt.appendChild(document.createTextNode(cfg.title[0]));
    const sp = mk(tt,"tspan",{"baseline-shift":"super","font-size":12});
    sp.textContent = "+";
    const rest = mk(tt,"tspan",{});
    rest.textContent = cfg.title[1];
  } else tt.textContent = cfg.title;
  const a1 = mk(g,"text",{x:cfg.x1-4,y:cfg.y0+24,"font-size":20,"text-anchor":"end"});
  a1.textContent = "Partial. cor=" + corLabels[cfg.idx];
  
  
  const a2 = mk(g,"text",{x:cfg.x1-4,y:cfg.y0+48,"font-size":20,"text-anchor":"end"});
  
  
  a2.appendChild(document.createTextNode("P=" + pMant[cfg.idx] + "x10"));
  const ex = mk(a2,"tspan",{"baseline-shift":"super","font-size":12});
  ex.textContent = pExp[cfg.idx];
}
function strip(x0,x1,y0,y1,fs){
  const g = document.getElementById("chartE");
  const r = mk(g,"rect",{x:x0,y:y0,width:x1-x0,height:y1-y0,fill:"#d9d9d9",stroke:"#555","stroke-width":1.3});
  
  
  const t = mk(g,"text",{transform:`translate(${(x0+x1)/2+fs*0.35},${(y0+y1)/2-60}) rotate(-90)`,"font-size":fs,"text-anchor":"middle",fill:"#444"});
  t.textContent = "GBM";
  
  
}
const topRow = {y0:850,y1:1133,ybase:1125,ypu:42.25,yticks:topYTicks,r:5,tickFs:15,xlabOff:20,titleY:843};
const botRow = {y0:1258,y1:1525,ybase:1460.6,ypu:38.73,yticks:botYTicks,r:4.9,tickFs:15,xlabOff:20,titleY:1249};
strip(203,223,850,1133,11);
strip(55,84,1258,1525,14);
panel(Object.assign({},topRow,{idx:0,x0:223,x1:516,px0:235.2,ppu:307.6,zero:cd4Zero,pts:cd4Pts,dense:cd4Dense,fx:cd4FitX,fy:cd4FitY,ci:cd4Ci,xticks:cd4XTicks,xlabels:cd4XLabels,title:["CD4"," T cell"],sup:true,showY:true,ylabX:200}));
panel(Object.assign({},topRow,{idx:1,x0:526,x1:820,px0:539,ppu:226.7,zero:neuZero,pts:neuPts,dense:neuDense,fx:neuFitX,fy:neuFitY,ci:neuCi,xticks:neuXTicks,xlabels:neuXLabels,title:"Neutrophil"}));
panel(Object.assign({},topRow,{idx:2,x0:830,x1:1125,px0:843,ppu:274,zero:macZero,pts:macPts,dense:macDense,fx:macFitX,fy:macFitY,ci:macCi,xticks:macXTicks,xlabels:macXLabels,title:"Macrophage"}));
panel(Object.assign({},botRow,{idx:3,x0:84,x1:361,px0:77.4,ppu:273.6,zero:[],pts:purPts,dense:purDense,fx:purFitX,fy:purFitY,ci:purCi,xticks:purXTicks,xlabels:purXLabels,title:"Purity",showY:true,ylabX:50}));
panel(Object.assign({},botRow,{idx:4,x0:371,x1:652,px0:383,ppu:136.5,zero:bZero,pts:bPts,dense:bDense,fx:bFitX,fy:bFitY,ci:bCi,xticks:bXTicks,xlabels:bXLabels,title:"B cell"}));
panel(Object.assign({},botRow,{idx:5,x0:660,x1:938,px0:671,ppu:150,zero:cd8Zero,pts:cd8Pts,dense:cd8Dense,fx:cd8FitX,fy:cd8FitY,ci:cd8Ci,xticks:cd8XTicks,xlabels:cd8XLabels,title:["CD8"," T cell"],sup:true}));
panel(Object.assign({},botRow,{idx:6,x0:946,x1:1225,px0:958,ppu:92,zero:dcZero,pts:dcPts,dense:dcDense,fx:dcFitX,fy:dcFitY,ci:dcCi,xticks:dcXTicks,xlabels:dcXLabels,title:"Dendritic cell"}));
</script>
</body></html>
